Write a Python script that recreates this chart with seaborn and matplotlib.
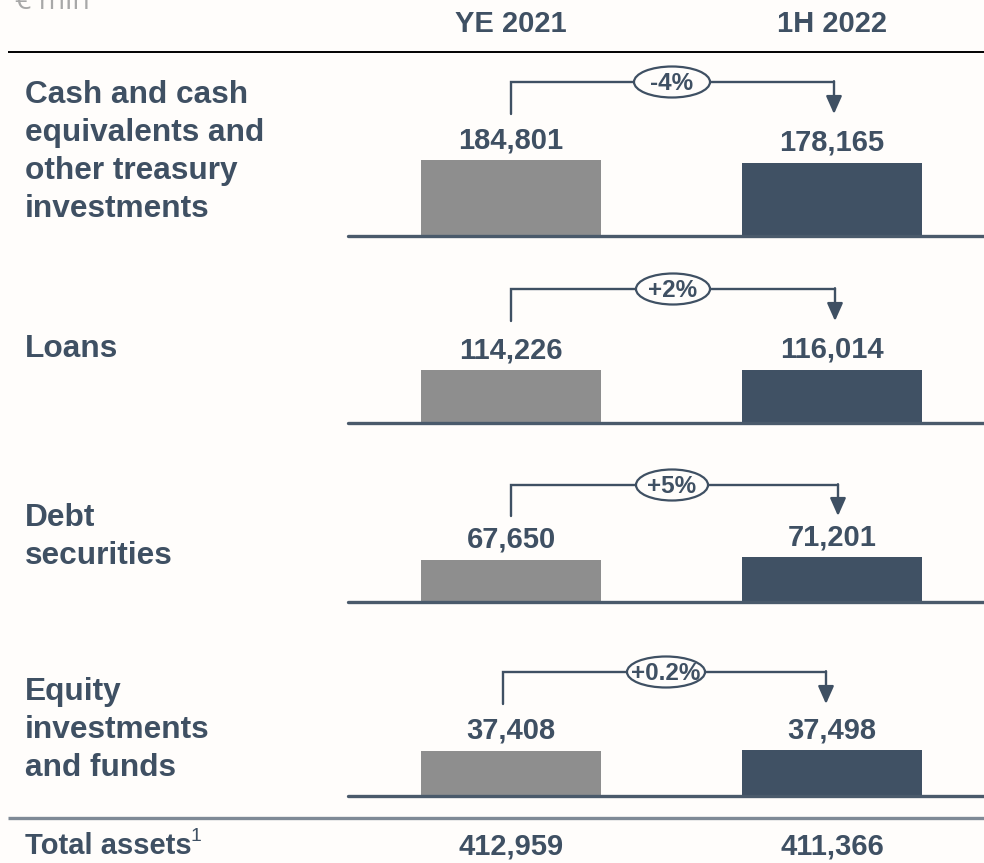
import matplotlib
matplotlib.use("Agg")
import matplotlib.pyplot as plt
import seaborn as sns
import pandas as pd
import numpy as np
from matplotlib.patches import Ellipse

# ---------------- data ----------------
categories = ["Cash and cash\nequivalents and\nother treasury\ninvestments",
              "Loans",
              "Debt\nsecurities",
              "Equity\ninvestments\nand funds"]
periods = ["YE 2021", "1H 2022"]
ye2021 = [184801, 114226, 67650, 37408]
h1_2022 = [178165, 116014, 71201, 37498]
changes = ["-4%", "+2%", "+5%", "+0.2%"]
total_label = "Total assets"
total_note = "1"
totals = [412959, 411366]
unit = "€ mln"

# ---------------- style ----------------
sns.set_theme(style="white")
plt.rcParams["font.family"] = ["Liberation Sans", "DejaVu Sans"]
BG = "#fffdfb"
TXT = "#3f5063"
DARK = "#405164"
GRAY = "#8e8e8e"
LINE = "#4a5a6b"

W, H = 984, 863
fig = plt.figure(figsize=(W / 100, H / 100), dpi=100, facecolor=BG)

# overlay axes in pixel coordinates
ov = fig.add_axes([0, 0, 1, 1])
ov.set_xlim(0, W)
ov.set_ylim(H, 0)
ov.axis("off")

# layout
x_left_axis = 348
x_c = [511, 832]
base_y = [236.5, 423, 602, 796]
bar_px = [75, 53, 43.5, 45.5]
axes_h = 110
label_baselines = [[103, 141, 179, 217], [357], [526, 564], [700, 738, 776]]
brackets = [  # xl, xr, ytop, ybottom, ellipse cx, ellipse w
    (511, 834, 82, 114, 672, 76),
    (511, 835, 289, 321, 673, 74),
    (511, 838, 485, 516, 672, 72),
    (503, 826, 672, 704, 666, 78),
]

# unit and headers
ov.text(15, 9, unit, fontsize=20.5, color="#a8a8a8", ha="left", va="baseline",
        family=["Open Sans", "DejaVu Sans"])
for xc, p in zip(x_c, periods):
    ov.text(xc, 32, p, fontsize=21, fontweight="bold", color=TXT, ha="center", va="baseline")
ov.plot([8, W], [52, 52], color="black", lw=1.4, solid_capstyle="butt")

scale = 321.0  # px per category unit
for i in range(4):
    ax = fig.add_axes([x_left_axis / W, (H - base_y[i]) / H, (W - x_left_axis) / W, axes_h / H])
    vals = [ye2021[i], h1_2022[i]]
    df = pd.DataFrame({"period": periods, "value": vals})
    sns.barplot(data=df, x="period", y="value", hue="period", palette=[GRAY, DARK],
                width=0.56, saturation=1, legend=False, linewidth=0, ax=ax)
    ymax = np.mean(vals) * axes_h / bar_px[i]
    ax.set_ylim(0, ymax)
    ax.set_xlim(-(x_c[0] - x_left_axis) / scale, 1 + (W - x_c[1]) / scale)
    ax.set_facecolor("none")
    for s in ax.spines.values():
        s.set_visible(False)
    ax.set_xticks([])
    ax.set_yticks([])
    ax.set_xlabel("")
    ax.set_ylabel("")
    ax.axhline(0, color=LINE, lw=2.4, clip_on=False, zorder=5)
    for j, v in enumerate(vals):
        ax.annotate(f"{v:,}", xy=(j, v), xytext=(0, 20 * 0.72), textcoords="offset points",
                    ha="center", va="center", fontsize=21, fontweight="bold", color=TXT)

    # category label
    for line, yb in zip(categories[i].split("\n"), label_baselines[i]):
        ov.text(25, yb, line, fontsize=22.8, fontweight="bold", color=TXT, ha="left", va="baseline")

    # bracket with arrow
    xl, xr, yt, yb, ecx, ew = brackets[i]
    ov.plot([xl, xl, xr], [yb, yt, yt], color=TXT, lw=1.7, solid_joinstyle="miter")
    ov.annotate("", xy=(xr, yb), xytext=(xr, yt - 0.8),
                arrowprops=dict(arrowstyle="-|>,head_length=0.45,head_width=0.2",
                                mutation_scale=24, lw=1.7, color=TXT, shrinkA=0, shrinkB=0))
    ov.add_patch(Ellipse((ecx, yt), ew, 31, facecolor=BG, edgecolor=TXT, lw=1.6, zorder=6))
    ov.text(ecx, yt + 1, changes[i], fontsize=17.5, fontweight="bold", color=TXT,
            ha="center", va="center", zorder=7)

# total row
ov.plot([8, W], [818, 818], color="#7f8a96", lw=2.4, solid_capstyle="butt")
ov.text(25, 854, total_label, fontsize=21, fontweight="bold", color=TXT, ha="left", va="baseline")
ov.text(191, 841, total_note, fontsize=14, color=TXT, ha="left", va="baseline")
for xc, v in zip(x_c, totals):
    ov.text(xc, 854, f"{v:,}", fontsize=21, fontweight="bold", color=TXT, ha="center", va="baseline")

fig.savefig("out.png", dpi=100, facecolor=BG)
